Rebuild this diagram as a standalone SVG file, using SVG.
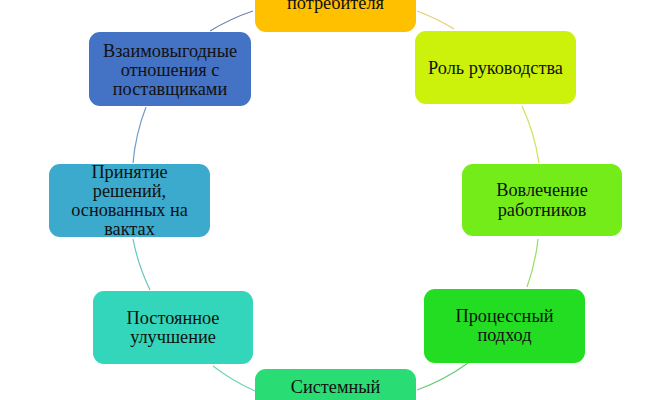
<svg xmlns="http://www.w3.org/2000/svg" width="671" height="400" viewBox="0 0 671 400">
<style>
.n{stroke:none}
.t{font-family:"Liberation Serif","Times New Roman",serif;font-size:18.3px;fill:#111;text-anchor:middle}
.c{fill:none;stroke-width:1.2}
</style>
<rect width="671" height="400" fill="#fff"/>
<g id="connectors">
<path class="c" stroke="#E2CF6E" d="M417,11 A207,207 0 0 1 454,29"/>
<path class="c" stroke="#CFE25A" d="M522,106 A207,207 0 0 1 539,163"/>
<path class="c" stroke="#98DC64" d="M538,239 A207,207 0 0 1 527,287"/>
<path class="c" stroke="#66CC72" d="M468,363 A207,207 0 0 1 417,390"/>
<path class="c" stroke="#74D6AE" d="M255,391 A207,207 0 0 1 213,366"/>
<path class="c" stroke="#66C4C2" d="M150,290 A207,207 0 0 1 133,239"/>
<path class="c" stroke="#6E9CC8" d="M133,163 A207,207 0 0 1 146,107"/>
<path class="c" stroke="#6E84B2" d="M210,31 A207,207 0 0 1 253,11"/>
</g>
<g id="node-top">
<rect class="n" x="255" y="-42" width="161" height="74" rx="11" fill="#FFC000"/>
<text class="t" x="335.5" y="8.5">потребителя</text>
</g>
<g id="node-role">
<rect class="n" x="415" y="31" width="161" height="73" rx="11" fill="#CCF20C"/>
<text class="t" x="495.5" y="73.5">Роль руководства</text>
</g>
<g id="node-involve">
<rect class="n" x="462" y="164" width="160" height="72" rx="11" fill="#74EC1A"/>
<text class="t" x="542" y="195.5">Вовлечение</text>
<text class="t" x="542" y="215.5">работников</text>
</g>
<g id="node-process">
<rect class="n" x="424" y="289" width="161" height="74" rx="11" fill="#22DD22"/>
<text class="t" x="504.5" y="321.5">Процессный</text>
<text class="t" x="504.5" y="340.5">подход</text>
</g>
<g id="node-system">
<rect class="n" x="255" y="369" width="161" height="74" rx="11" fill="#2ADC74"/>
<text class="t" x="335.5" y="392.5">Системный</text>
</g>
<g id="node-improve">
<rect class="n" x="93" y="291" width="160" height="73" rx="11" fill="#33D6BA"/>
<text class="t" x="173" y="323.5">Постоянное</text>
<text class="t" x="173" y="343">улучшение</text>
</g>
<g id="node-decisions">
<rect class="n" x="49" y="164" width="161" height="73" rx="11" fill="#3BAACC"/>
<text class="t" x="129.5" y="178">Принятие</text>
<text class="t" x="129.5" y="197">решений,</text>
<text class="t" x="129.5" y="216">основанных на</text>
<text class="t" x="129.5" y="234.5">вактах</text>
</g>
<g id="node-suppliers">
<rect class="n" x="89" y="32" width="162" height="74" rx="11" fill="#4472C4"/>
<text class="t" x="170" y="56.5">Взаимовыгодные</text>
<text class="t" x="170" y="75.5">отношения с</text>
<text class="t" x="170" y="94.5">поставщиками</text>
</g>
</svg>
